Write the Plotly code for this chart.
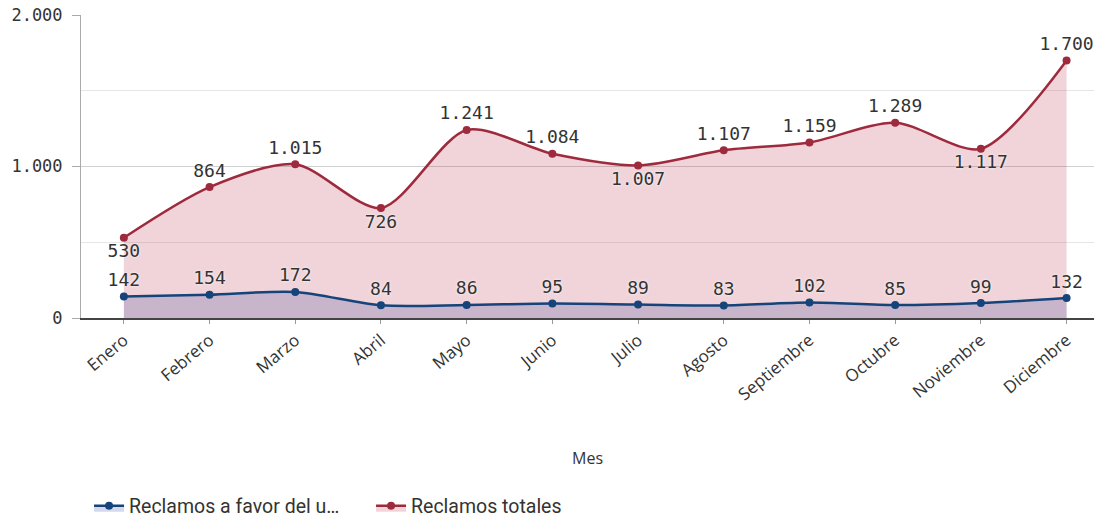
import plotly.graph_objects as go

meses = ["Enero", "Febrero", "Marzo", "Abril", "Mayo", "Junio", "Julio",
         "Agosto", "Septiembre", "Octubre", "Noviembre", "Diciembre"]
reclamos_favor = [142, 154, 172, 84, 86, 95, 89, 83, 102, 85, 99, 132]
reclamos_totales = [530, 864, 1015, 726, 1241, 1084, 1007, 1107, 1159, 1289, 1117, 1700]
# posicion de etiqueta de la serie roja (abajo en los valles)
pos_totales = ["bottom center", "top center", "top center", "bottom center", "top center",
               "top center", "bottom center", "top center", "top center", "top center",
               "bottom center", "top center"]


def fmt(v):
    return f"{v:,}".replace(",", ".")


mono = "DejaVu Sans Mono"
sans = "Open Sans"
halo = "0px 0px 3px white"

fig = go.Figure()

fig.add_trace(go.Scatter(x=meses, y=reclamos_totales, name="Reclamos totales",
                         mode="lines+markers+text", line=dict(color="#9e2a3e", width=2.5, shape="spline", smoothing=0.8),
                         marker=dict(size=8, color="#9e2a3e"), fill="tozeroy", fillcolor="rgba(180,40,65,0.2)",
                         text=[fmt(v) for v in reclamos_totales], textposition=pos_totales, cliponaxis=False,
                         textfont=dict(family=mono, size=18, color="#333", shadow=halo)))

fig.add_trace(go.Scatter(x=meses, y=reclamos_favor, name="Reclamos a favor del u…",
                         mode="lines+markers+text", line=dict(color="#15447a", width=2.5, shape="spline", smoothing=0.8),
                         marker=dict(size=8, color="#15447a"), fill="tozeroy", fillcolor="rgba(40,60,150,0.2)",
                         text=[fmt(v) for v in reclamos_favor], textposition="top center", cliponaxis=False,
                         textfont=dict(family=mono, size=18, color="#333", shadow=halo)))

fig.update_layout(width=1094, height=519, margin=dict(l=81, r=0, t=15, b=201),
                  plot_bgcolor="white", paper_bgcolor="white",
                  font=dict(family=sans, color="#333"), separators=",.",
                  legend=dict(orientation="h", xref="container", x=0.0814, xanchor="left",
                              yref="container", y=0.025, yanchor="middle",
                              traceorder="reversed", font=dict(family="Roboto", size=19.5, color="#333"),
                              itemwidth=30, entrywidth=237, entrywidthmode="pixels"))

fig.update_xaxes(range=[-0.5, 11.32], showgrid=False, showline=True, linecolor="#444", linewidth=1.5,
                 ticks="outside", ticklen=4, tickcolor="#999", tickangle=-40, automargin=False,
                 tickfont=dict(family=sans, size=17, color="#333"),
                 title=dict(text="Mes", font=dict(family=sans, size=16, color="#333"), standoff=49))

fig.update_yaxes(range=[0, 2000], dtick=1000, tickformat=",d", automargin=False,
                 showgrid=True, gridcolor="#d0d0d0", zeroline=False,
                 showline=True, linecolor="#aaa", ticks="outside", ticklen=8, tickcolor="#aaa",
                 ticklabelstandoff=6,
                 tickfont=dict(family=mono, size=17, color="#333"),
                 minor=dict(dtick=500, showgrid=True, gridcolor="#e6e6e6"))

# quitar el margen por defecto del body para que la figura quede en (0, 0)
fig.write_html("out.html", config={"displayModeBar": False},
               post_script="document.body.style.margin='0';")
